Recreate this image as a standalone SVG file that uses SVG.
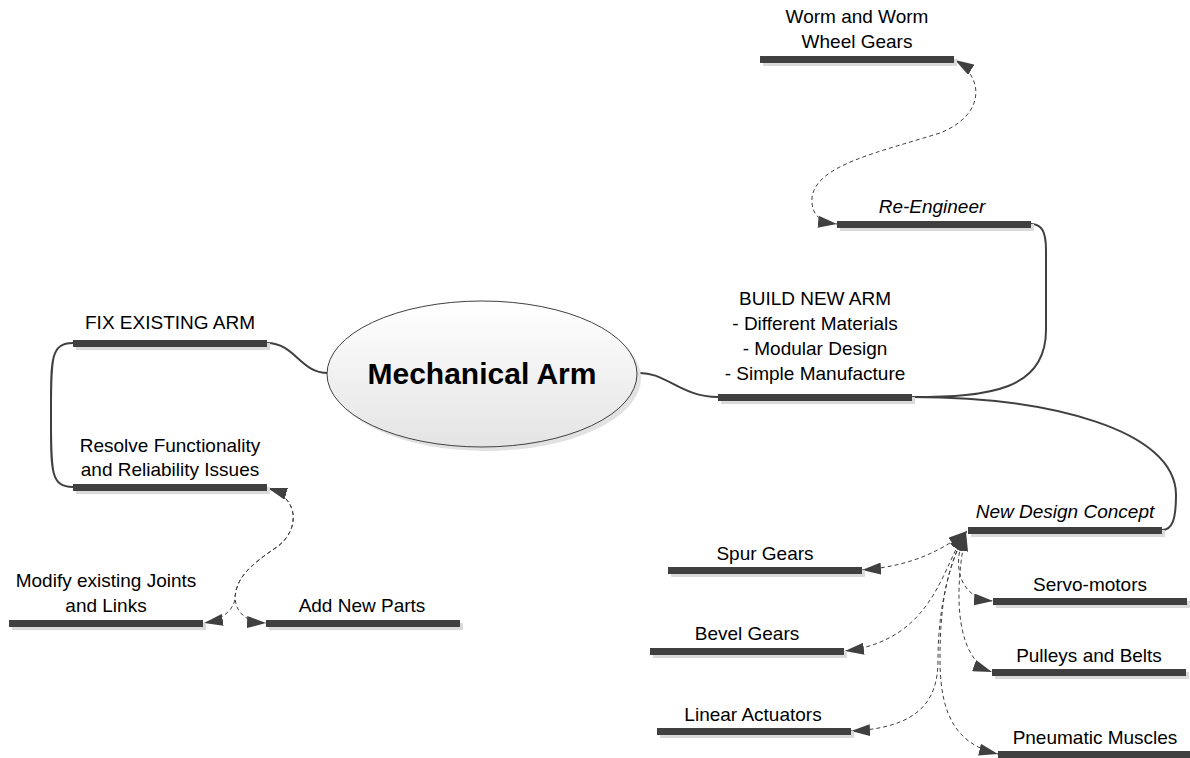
<svg xmlns="http://www.w3.org/2000/svg" width="1190" height="758" viewBox="0 0 1190 758">
  <defs>
    <linearGradient id="topicFill" x1="0" y1="0" x2="0" y2="1">
      <stop offset="0" stop-color="#ffffff"/>
      <stop offset="1" stop-color="#e4e4e4"/>
    </linearGradient>
    <marker id="arrow" markerUnits="userSpaceOnUse" markerWidth="19" markerHeight="12" viewBox="0 0 19 12" refX="19" refY="6" orient="auto-start-reverse">
      <path d="M0,0 L19,6 L0,12 z" fill="#404040"/>
    </marker>
  </defs>
  <style>
    text { font-family: "Liberation Sans", Arial, sans-serif; font-size: 19px; fill: #000; text-anchor: middle; }
    .it { font-style: italic; }
    .title { font-size: 30px; font-weight: bold; }
    .bar { fill: #404040; }
    .shadow { fill: #dadada; }
    .link { fill: none; stroke: #404040; stroke-width: 2; }
    .dash { fill: none; stroke: #404040; stroke-width: 1; stroke-dasharray: 4 3; marker-start: url(#arrow); marker-end: url(#arrow); }
  </style>
  <rect width="1190" height="758" fill="#ffffff"/>

  <!-- connectors: solid branch lines and dashed two-way relations -->
  <g id="connectors">
    <path class="link" d="M267,343 C295,343 300,373 328,373"/>
    <path class="link" d="M73,343 C50,343 51,360 51,415 C51,470 50,487 73,487"/>
    <path class="link" d="M637,373 C665,371 680,397 718,397"/>
    <path class="link" d="M912,397 C990,397 1046,390 1046,330 L1046,250 C1046,232 1042,224 1031,224"/>
    <path class="link" d="M912,397 C1050,397 1176,430 1176,495 C1176,520 1172,530 1162,530"/>

    <path class="dash" d="M955,60 C985,78 985,115 940,133 C880,152 815,165 812,198 C811,215 820,222 837,224"/>

    <path class="dash" d="M268,488 C300,498 300,530 277,547 C250,565 236,578 235,598 C234,610 222,620 204,623"/>
    <path class="dash" d="M268,488 C300,498 300,530 277,547 C250,565 236,578 235,598 C236,612 245,622 266,623"/>

    <path class="dash" d="M967,531 C945,548 915,566 862,570"/>
    <path class="dash" d="M966,532 C952,560 956,598 993,601"/>
    <path class="dash" d="M966,532 C942,565 935,640 845,651"/>
    <path class="dash" d="M966,532 C952,600 958,660 992,672"/>
    <path class="dash" d="M966,532 C945,570 938,620 938,660 C938,700 920,728 851,731"/>
    <path class="dash" d="M966,532 C945,570 940,610 940,660 C940,720 960,745 998,754"/>
  </g>

  <!-- central topic -->
  <g id="mechanical-arm">
    <ellipse cx="486" cy="378" rx="155" ry="73" fill="#e2e2e2"/>
    <ellipse cx="482" cy="374" rx="155" ry="73" fill="url(#topicFill)" stroke="#404040" stroke-width="1"/>
    <text class="title" x="482" y="384">Mechanical Arm</text>
  </g>

  <g id="fix-existing-arm">
    <rect class="shadow" x="76" y="343" width="194" height="7"/>
    <rect class="bar" x="73" y="340" width="194" height="7"/>
    <text x="170" y="329">FIX EXISTING ARM</text>
  </g>

  <g id="resolve-issues">
    <rect class="shadow" x="76" y="487" width="194" height="7"/>
    <rect class="bar" x="73" y="484" width="194" height="7"/>
    <text x="170" y="452">Resolve Functionality</text>
    <text x="170" y="476">and Reliability Issues</text>
  </g>

  <g id="modify-joints">
    <rect class="shadow" x="12" y="623" width="194" height="7"/>
    <rect class="bar" x="9" y="620" width="194" height="7"/>
    <text x="106" y="587">Modify existing Joints</text>
    <text x="106" y="612">and Links</text>
  </g>

  <g id="add-new-parts">
    <rect class="shadow" x="269" y="623" width="194" height="7"/>
    <rect class="bar" x="266" y="620" width="194" height="7"/>
    <text x="362" y="612">Add New Parts</text>
  </g>

  <g id="build-new-arm">
    <rect class="shadow" x="721" y="397" width="194" height="7"/>
    <rect class="bar" x="718" y="394" width="194" height="7"/>
    <text x="815" y="305">BUILD NEW ARM</text>
    <text x="815" y="330">- Different Materials</text>
    <text x="815" y="355">- Modular Design</text>
    <text x="815" y="380">- Simple Manufacture</text>
  </g>

  <g id="re-engineer">
    <rect class="shadow" x="840" y="224" width="194" height="7"/>
    <rect class="bar" x="837" y="221" width="194" height="7"/>
    <text class="it" x="932" y="213">Re-Engineer</text>
  </g>

  <g id="worm-gears">
    <rect class="shadow" x="763" y="59" width="194" height="7"/>
    <rect class="bar" x="760" y="56" width="194" height="7"/>
    <text x="857" y="23">Worm and Worm</text>
    <text x="857" y="48">Wheel Gears</text>
  </g>

  <g id="new-design-concept">
    <rect class="shadow" x="971" y="530" width="194" height="7"/>
    <rect class="bar" x="968" y="527" width="194" height="7"/>
    <text class="it" x="1065" y="518">New Design Concept</text>
  </g>

  <g id="spur-gears">
    <rect class="shadow" x="671" y="570" width="194" height="7"/>
    <rect class="bar" x="668" y="567" width="194" height="7"/>
    <text x="765" y="560">Spur Gears</text>
  </g>

  <g id="servo-motors">
    <rect class="shadow" x="996" y="601" width="194" height="7"/>
    <rect class="bar" x="993" y="598" width="194" height="7"/>
    <text x="1090" y="591">Servo-motors</text>
  </g>

  <g id="bevel-gears">
    <rect class="shadow" x="653" y="651" width="194" height="7"/>
    <rect class="bar" x="650" y="648" width="194" height="7"/>
    <text x="747" y="640">Bevel Gears</text>
  </g>

  <g id="pulleys-belts">
    <rect class="shadow" x="995" y="672" width="194" height="7"/>
    <rect class="bar" x="992" y="669" width="194" height="7"/>
    <text x="1089" y="662">Pulleys and Belts</text>
  </g>

  <g id="linear-actuators">
    <rect class="shadow" x="660" y="731" width="194" height="7"/>
    <rect class="bar" x="657" y="728" width="194" height="7"/>
    <text x="753" y="721">Linear Actuators</text>
  </g>

  <g id="pneumatic-muscles">
    <rect class="shadow" x="1001" y="754" width="194" height="7"/>
    <rect class="bar" x="998" y="751" width="194" height="7"/>
    <text x="1095" y="744">Pneumatic Muscles</text>
  </g>
</svg>
